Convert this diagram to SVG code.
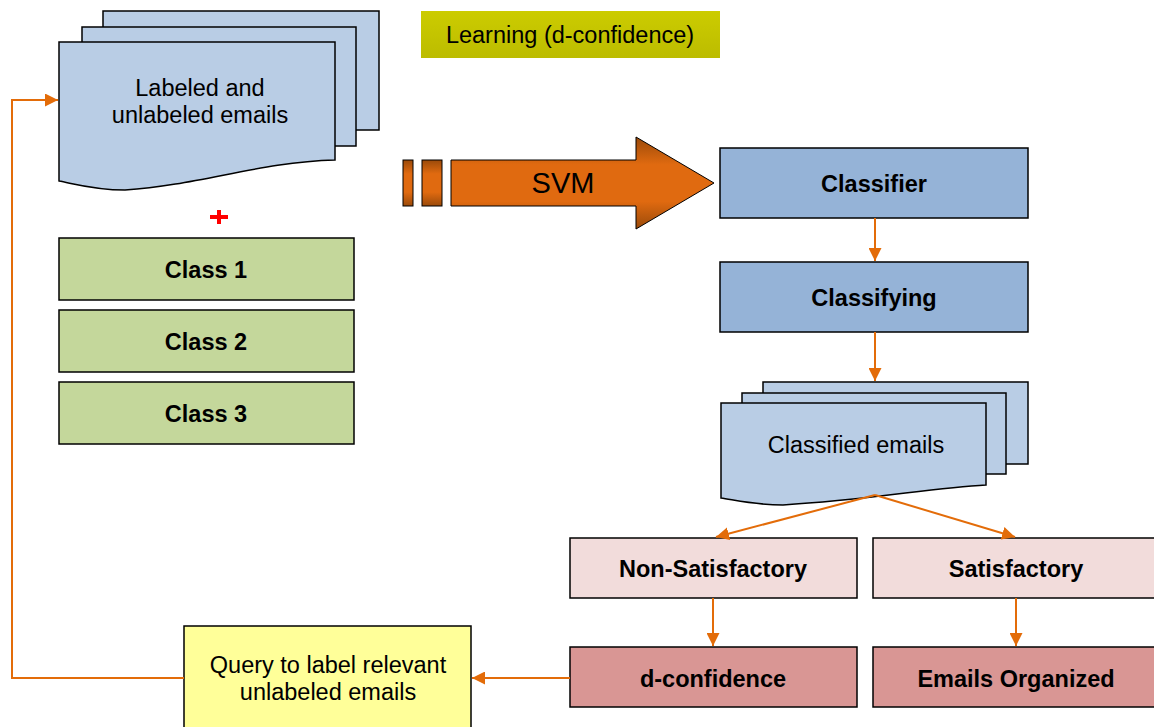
<svg xmlns="http://www.w3.org/2000/svg" width="1154" height="727" viewBox="0 0 1154 727">
<style>
.doc{fill:#b9cde5;stroke:#000;stroke-width:1.5}
.cls{fill:#c4d79b;stroke:#000;stroke-width:1.5}
.blue{fill:#95b3d7;stroke:#000;stroke-width:1.5}
.pink{fill:#f2dcdb;stroke:#000;stroke-width:1.5}
.rose{fill:#d99694;stroke:#000;stroke-width:1.5}
.yel{fill:#ffff99;stroke:#000;stroke-width:1.5}
.t{font-family:"Liberation Sans",Arial,sans-serif;font-size:23.5px;fill:#000;text-anchor:middle}
.b{font-weight:bold}
.con{fill:none;stroke:#e36c09;stroke-width:2}
</style>
<defs>
<marker id="ah" viewBox="0 0 10 10" refX="10" refY="5" markerWidth="13" markerHeight="13" orient="auto" markerUnits="userSpaceOnUse">
<path d="M0,0 L10,5 L0,10 z" fill="#e36c09"/>
</marker>
<linearGradient id="og" x1="0" y1="0" x2="0" y2="1">
<stop offset="0" stop-color="#9a4a0a"/>
<stop offset="0.3" stop-color="#e06a10"/>
<stop offset="0.7" stop-color="#e06a10"/>
<stop offset="1" stop-color="#9a4a0a"/>
</linearGradient>
<linearGradient id="lg" x1="0" y1="0" x2="0" y2="1">
<stop offset="0" stop-color="#cccc00"/>
<stop offset="1" stop-color="#bcbc00"/>
</linearGradient>
</defs>

<g id="learning">
<rect x="421" y="11" width="299" height="47" fill="url(#lg)"/>
<text class="t" x="570" y="43">Learning (d-confidence)</text>
</g>

<g id="labeled-emails">
<rect class="doc" x="103" y="11" width="276" height="119"/>
<rect class="doc" x="82" y="27" width="274" height="119"/>
<path class="doc" d="M59,42 L335,42 L335,160 C260,162 200,185 125,190 C95,190 75,184 59,181 Z"/>
<text class="t" x="200" y="96">Labeled and</text>
<text class="t" x="200" y="123">unlabeled emails</text>
</g>

<g id="plus">
<rect x="210" y="215" width="18" height="4" fill="#ff0000"/>
<rect x="217" y="210" width="4" height="14" fill="#ff0000"/>
</g>

<g id="class1"><rect class="cls" x="59" y="238" width="295" height="62"/><text class="t b" x="206" y="278">Class 1</text></g>
<g id="class2"><rect class="cls" x="59" y="310" width="295" height="62"/><text class="t b" x="206" y="350">Class 2</text></g>
<g id="class3"><rect class="cls" x="59" y="382" width="295" height="62"/><text class="t b" x="206" y="422">Class 3</text></g>

<g id="svm">
<rect x="403" y="160" width="10" height="46" fill="url(#og)" stroke="#000" stroke-width="1"/>
<rect x="422" y="160" width="20" height="46" fill="url(#og)" stroke="#000" stroke-width="1"/>
<path d="M451,160 L636,160 L636,137 L714,183 L636,229 L636,206 L451,206 Z" fill="url(#og)" stroke="#000" stroke-width="1"/>
<text x="563" y="193" font-family="Liberation Sans,Arial,sans-serif" font-size="29" text-anchor="middle" fill="#000">SVM</text>
</g>

<g id="classifier"><rect class="blue" x="720" y="148" width="308" height="70"/><text class="t b" x="874" y="192">Classifier</text></g>
<g id="classifying"><rect class="blue" x="720" y="262" width="308" height="70"/><text class="t b" x="874" y="306">Classifying</text></g>

<g id="classified-emails">
<rect class="doc" x="763" y="382" width="265" height="82"/>
<rect class="doc" x="742" y="393" width="264" height="81"/>
<path class="doc" d="M721,403 L986,403 L986,485 C930,488 870,500 783,505 C755,505 735,500 721,498 Z"/>
<text class="t" x="856" y="453">Classified emails</text>
</g>

<g id="non-satisfactory"><rect class="pink" x="570" y="538" width="287" height="60"/><text class="t b" x="713" y="577">Non-Satisfactory</text></g>
<g id="satisfactory"><rect class="pink" x="873" y="538" width="287" height="60"/><text class="t b" x="1016" y="577">Satisfactory</text></g>
<g id="d-confidence"><rect class="rose" x="570" y="647" width="287" height="60"/><text class="t b" x="713" y="687">d-confidence</text></g>
<g id="emails-organized"><rect class="rose" x="873" y="647" width="287" height="60"/><text class="t b" x="1016" y="687">Emails Organized</text></g>

<g id="query">
<rect class="yel" x="184" y="626" width="287" height="110"/>
<text class="t" x="328" y="673">Query to label relevant</text>
<text class="t" x="328" y="700">unlabeled emails</text>
</g>

<g id="connectors">
<line class="con" x1="875" y1="218" x2="875" y2="261" marker-end="url(#ah)"/>
<line class="con" x1="875" y1="332" x2="875" y2="381" marker-end="url(#ah)"/>
<line class="con" x1="875" y1="495" x2="716" y2="537" marker-end="url(#ah)"/>
<line class="con" x1="875" y1="495" x2="1015" y2="537" marker-end="url(#ah)"/>
<line class="con" x1="713" y1="598" x2="713" y2="646" marker-end="url(#ah)"/>
<line class="con" x1="1016" y1="598" x2="1016" y2="646" marker-end="url(#ah)"/>
<line class="con" x1="570" y1="678" x2="472" y2="678" marker-end="url(#ah)"/>
<path class="con" d="M184,678 L12,678 L12,100 L58,100" marker-end="url(#ah)"/>
</g>
</svg>
